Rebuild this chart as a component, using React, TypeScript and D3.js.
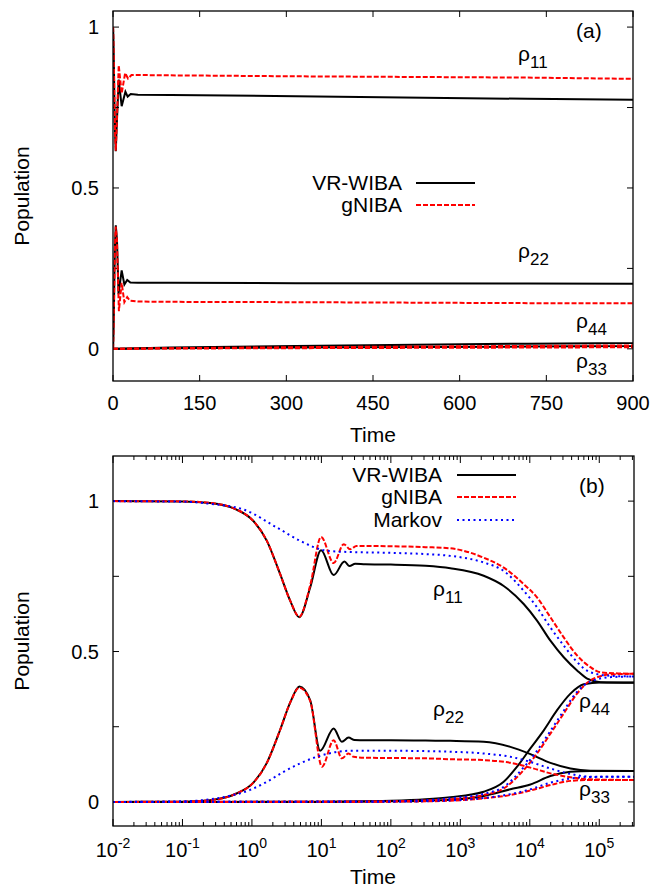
import React from "react";
import * as d3 from "d3";

// ---------- data (time, population) ----------
// VR-WIBA
const tVR11 = [0.01, 0.1, 0.25, 0.6, 1.05, 1.64, 2.55, 3.55, 4.8, 6.9, 9.9, 15, 21.5, 25.4, 30.7, 43, 100, 316, 718, 2170, 4210, 8170, 12700, 19800, 30800, 47900, 67000, 104000, 316000];
const vVR11 = [1.0, 0.999, 0.994, 0.972, 0.934, 0.868, 0.757, 0.669, 0.614, 0.713, 0.837, 0.754, 0.799, 0.784, 0.792, 0.79, 0.789, 0.785, 0.777, 0.752, 0.718, 0.658, 0.603, 0.536, 0.481, 0.437, 0.41, 0.398, 0.396];
const tVR22 = [0.01, 0.1, 0.25, 0.6, 1.05, 1.64, 2.55, 3.55, 4.83, 6.9, 9.6, 15, 19.7, 24.6, 30, 43, 100, 316, 718, 2170, 5250, 10200, 19800, 38500, 74600, 316000];
const vVR22 = [0.0, 0.001, 0.006, 0.028, 0.064, 0.13, 0.24, 0.33, 0.384, 0.338, 0.17, 0.244, 0.2, 0.214, 0.206, 0.205, 0.205, 0.204, 0.203, 0.2, 0.183, 0.159, 0.13, 0.111, 0.104, 0.103];
const tVR33 = [0.01, 10, 100, 316, 718, 2170, 5250, 10200, 19800, 38500, 74600, 316000];
const vVR33 = [0.0, 0.0002, 0.002, 0.004, 0.007, 0.02, 0.042, 0.058, 0.086, 0.1, 0.103, 0.103];
const tVR44 = [0.01, 10, 100, 316, 718, 2170, 4210, 6560, 10200, 15900, 24700, 38500, 59800, 104000, 316000];
const vVR44 = [0.0, 0.0005, 0.004, 0.009, 0.016, 0.034, 0.067, 0.117, 0.178, 0.238, 0.305, 0.36, 0.391, 0.397, 0.397];

// gNIBA
const tG11 = [0.01, 0.1, 0.25, 0.6, 1.05, 1.64, 2.55, 3.55, 4.8, 6.9, 9.9, 15, 21, 26, 32, 43, 100, 316, 718, 2170, 4210, 8170, 12700, 19800, 30800, 47900, 74600, 104000, 200000, 316000];
const vG11 = [1.0, 0.999, 0.994, 0.972, 0.934, 0.868, 0.757, 0.669, 0.616, 0.72, 0.881, 0.794, 0.857, 0.84, 0.851, 0.851, 0.85, 0.847, 0.843, 0.812, 0.779, 0.724, 0.68, 0.614, 0.547, 0.487, 0.448, 0.431, 0.427, 0.426];
const tG22 = [0.01, 0.1, 0.25, 0.6, 1.05, 1.64, 2.55, 3.55, 4.83, 6.9, 10.2, 15, 19.7, 24.6, 29, 43, 100, 316, 718, 2170, 5250, 10200, 19800, 38500, 74600, 316000];
const vG22 = [0.0, 0.001, 0.006, 0.028, 0.064, 0.13, 0.24, 0.33, 0.38, 0.335, 0.117, 0.205, 0.145, 0.161, 0.15, 0.147, 0.146, 0.145, 0.142, 0.139, 0.13, 0.114, 0.095, 0.082, 0.075, 0.073];
const tG33 = [0.01, 100, 718, 2170, 5250, 10200, 19800, 38500, 74600, 316000];
const vG33 = [0.0, 0.001, 0.004, 0.012, 0.023, 0.038, 0.056, 0.07, 0.073, 0.073];
const tG44 = [0.01, 10, 100, 316, 718, 2170, 4210, 8170, 12700, 19800, 30800, 47900, 74600, 150000, 316000];
const vG44 = [0.0, 0.0003, 0.002, 0.005, 0.009, 0.023, 0.045, 0.106, 0.161, 0.227, 0.294, 0.36, 0.404, 0.424, 0.426];

// Markov
const tM11 = [0.01, 0.1, 0.25, 0.76, 2.29, 4.95, 10.7, 18, 100, 316, 718, 2170, 4210, 8170, 12700, 19800, 30800, 47900, 74600, 150000, 316000];
const vM11 = [1.0, 0.998, 0.991, 0.972, 0.912, 0.868, 0.837, 0.832, 0.828, 0.824, 0.818, 0.796, 0.768, 0.702, 0.647, 0.58, 0.52, 0.465, 0.431, 0.419, 0.417];
const tM22 = [0.01, 0.1, 0.31, 0.94, 1.64, 2.85, 8.6, 26, 100, 316, 718, 2170, 5250, 10200, 19800, 38500, 74600, 316000];
const vM22 = [0.0, 0.002, 0.012, 0.04, 0.067, 0.1, 0.15, 0.17, 0.17, 0.169, 0.167, 0.161, 0.15, 0.133, 0.111, 0.093, 0.084, 0.084];
const tM33 = [0.01, 100, 718, 2170, 5250, 10200, 19800, 38500, 74600, 316000];
const vM33 = [0.0, 0.001, 0.005, 0.013, 0.026, 0.042, 0.064, 0.078, 0.083, 0.084];
const tM44 = [0.01, 100, 316, 718, 2170, 4210, 8170, 12700, 19800, 30800, 47900, 74600, 150000, 316000];
const vM44 = [0.0, 0.002, 0.006, 0.012, 0.027, 0.05, 0.115, 0.17, 0.236, 0.303, 0.366, 0.4, 0.415, 0.417];

const linTicks = [0, 150, 300, 450, 600, 750, 900];
const yTicks = [0, 0.25, 0.5, 0.75, 1];
const yLabels = [0, 0.5, 1];
const logExps = [-2, -1, 0, 1, 2, 3, 4, 5];

const FONT = "'Liberation Sans', Arial, Helvetica, sans-serif";

type Series = { t: number[]; v: number[]; model: "VR" | "G" | "M" };
const vrSeries: Series[] = [
  { t: tVR11, v: vVR11, model: "VR" },
  { t: tVR22, v: vVR22, model: "VR" },
  { t: tVR33, v: vVR33, model: "VR" },
  { t: tVR44, v: vVR44, model: "VR" },
];
const gSeries: Series[] = [
  { t: tG11, v: vG11, model: "G" },
  { t: tG22, v: vG22, model: "G" },
  { t: tG33, v: vG33, model: "G" },
  { t: tG44, v: vG44, model: "G" },
];
const mSeries: Series[] = [
  { t: tM11, v: vM11, model: "M" },
  { t: tM22, v: vM22, model: "M" },
  { t: tM33, v: vM33, model: "M" },
  { t: tM44, v: vM44, model: "M" },
];

const styleOf = (m: string) =>
  m === "VR"
    ? { stroke: "#000", dash: undefined as string | undefined }
    : m === "G"
    ? { stroke: "#ff0000", dash: "5,2" }
    : { stroke: "#0000ff", dash: "2,3.5" };

function Rho({ x, y, sub }: { x: number; y: number; sub: string }) {
  return (
    <text x={x} y={y} fontFamily={FONT} fontSize={21} fill="#000">
      ρ
      <tspan dy={7} fontSize={17}>
        {sub}
      </tspan>
    </text>
  );
}

function LegendRow({ xText, y, label, model, x1, x2 }: { xText: number; y: number; label: string; model: string; x1: number; x2: number }) {
  const s = styleOf(model);
  return (
    <g>
      <text x={xText} y={y + 7} textAnchor="end" fontFamily={FONT} fontSize={21} fill="#000">
        {label}
      </text>
      <line x1={x1} x2={x2} y1={y} y2={y} stroke={s.stroke} strokeWidth={2} strokeDasharray={s.dash} />
    </g>
  );
}

export default function App() {
  const L = 113;
  // ---------- panel (a) ----------
  const xa = d3.scaleLinear().domain([0, 900]).range([L, 633]);
  const ya = d3.scaleLinear().domain([-0.1, 1.05]).range([381, 11]);
  // ---------- panel (b) ----------
  const xb = d3.scaleLog().domain([0.01, Math.pow(10, 5.5)]).range([L, 634]);
  const yb = d3.scaleLinear().domain([-0.08, 1.15]).range([826, 456]);

  const lineA = (s: Series) =>
    d3
      .line<number>()
      .x((_, i) => xa(s.t[i]))
      .y((d) => ya(d))
      .curve(d3.curveLinear)(s.v) || "";
  const lineB = (s: Series) =>
    d3
      .line<number>()
      .x((_, i) => xb(s.t[i]))
      .y((d) => yb(d))
      .curve(d3.curveMonotoneX)(s.v) || "";

  const minorLog: number[] = [];
  for (let e = -2; e <= 5; e++) {
    for (let k = 2; k <= 9; k++) {
      const v = k * Math.pow(10, e);
      if (v <= Math.pow(10, 5.5)) minorLog.push(v);
    }
  }

  const drawSeries = (list: Series[], fn: (s: Series) => string, clip: string) =>
    list.map((s, i) => {
      const st = styleOf(s.model);
      return (
        <path
          key={s.model + i}
          d={fn(s)}
          fill="none"
          stroke={st.stroke}
          strokeWidth={2}
          strokeDasharray={st.dash}
          clipPath={`url(#${clip})`}
        />
      );
    });

  const tickStyle = { stroke: "#000", strokeWidth: 1 };

  return (
    <svg width={666} height={890} style={{ position: "absolute", left: 0, top: 0, background: "#fff" }}>
      <defs>
        <clipPath id="clipA">
          <rect x={L} y={11} width={633 - L} height={370} />
        </clipPath>
        <clipPath id="clipB">
          <rect x={L} y={456} width={634 - L} height={370} />
        </clipPath>
      </defs>
      <rect x={0} y={0} width={666} height={890} fill="#fff" />

      {/* ===== Panel (a) ===== */}
      {linTicks.map((t) => (
        <g key={"xa" + t}>
          <line x1={xa(t)} x2={xa(t)} y1={381} y2={375} {...tickStyle} />
          <line x1={xa(t)} x2={xa(t)} y1={11} y2={17} {...tickStyle} />
          <text x={xa(t)} y={410} textAnchor="middle" fontFamily={FONT} fontSize={20}>
            {t}
          </text>
        </g>
      ))}
      {yTicks.map((v) => (
        <g key={"ya" + v}>
          <line x1={L} x2={L + 6} y1={ya(v)} y2={ya(v)} {...tickStyle} />
          <line x1={633} x2={627} y1={ya(v)} y2={ya(v)} {...tickStyle} />
        </g>
      ))}
      {yLabels.map((v) => (
        <text key={"yla" + v} x={99} y={ya(v) + 7} textAnchor="end" fontFamily={FONT} fontSize={20}>
          {v}
        </text>
      ))}
      <text x={0} y={0} transform={`translate(29,196) rotate(-90)`} textAnchor="middle" fontFamily={FONT} fontSize={21}>
        Population
      </text>
      <text x={373} y={442} textAnchor="middle" fontFamily={FONT} fontSize={21}>
        Time
      </text>

      {drawSeries(vrSeries, lineA, "clipA")}
      {drawSeries(gSeries, lineA, "clipA")}

      <rect x={L} y={11} width={633 - L} height={370} fill="none" stroke="#000" strokeWidth={1.3} />
      <text x={576} y={38} fontFamily={FONT} fontSize={21}>
        (a)
      </text>
      <LegendRow xText={402} y={183} label="VR-WIBA" model="VR" x1={416} x2={475} />
      <LegendRow xText={402} y={205} label="gNIBA" model="G" x1={416} x2={475} />
      <Rho x={518} y={61} sub="11" />
      <Rho x={518} y={258} sub="22" />
      <Rho x={576} y={328} sub="44" />
      <Rho x={576} y={368} sub="33" />

      {/* ===== Panel (b) ===== */}
      {minorLog.map((t, i) => (
        <g key={"mb" + i}>
          <line x1={xb(t)} x2={xb(t)} y1={826} y2={822} {...tickStyle} />
          <line x1={xb(t)} x2={xb(t)} y1={456} y2={460} {...tickStyle} />
        </g>
      ))}
      {logExps.map((e) => {
        const t = Math.pow(10, e);
        return (
          <g key={"xb" + e}>
            <line x1={xb(t)} x2={xb(t)} y1={826} y2={819} {...tickStyle} />
            <line x1={xb(t)} x2={xb(t)} y1={456} y2={463} {...tickStyle} />
            <text x={xb(t)} y={857} textAnchor="middle" fontFamily={FONT} fontSize={20}>
              10
              <tspan dy={-9} fontSize={14}>
                {e}
              </tspan>
            </text>
          </g>
        );
      })}
      {yTicks.map((v) => (
        <g key={"yb" + v}>
          <line x1={L} x2={L + 6} y1={yb(v)} y2={yb(v)} {...tickStyle} />
          <line x1={634} x2={628} y1={yb(v)} y2={yb(v)} {...tickStyle} />
        </g>
      ))}
      {yLabels.map((v) => (
        <text key={"ylb" + v} x={99} y={yb(v) + 7} textAnchor="end" fontFamily={FONT} fontSize={20}>
          {v}
        </text>
      ))}
      <text x={0} y={0} transform={`translate(29,641) rotate(-90)`} textAnchor="middle" fontFamily={FONT} fontSize={21}>
        Population
      </text>
      <text x={373} y={884} textAnchor="middle" fontFamily={FONT} fontSize={21}>
        Time
      </text>

      {drawSeries(vrSeries, lineB, "clipB")}
      {drawSeries(gSeries, lineB, "clipB")}
      {drawSeries(mSeries, lineB, "clipB")}

      <rect x={L} y={456} width={634 - L} height={370} fill="none" stroke="#000" strokeWidth={1.3} />
      <text x={579} y={493} fontFamily={FONT} fontSize={21}>
        (b)
      </text>
      <LegendRow xText={442} y={475} label="VR-WIBA" model="VR" x1={457} x2={516} />
      <LegendRow xText={442} y={497} label="gNIBA" model="G" x1={457} x2={516} />
      <LegendRow xText={442} y={520} label="Markov" model="M" x1={457} x2={516} />
      <Rho x={433} y={596} sub="11" />
      <Rho x={433} y={716} sub="22" />
      <Rho x={579} y={708} sub="44" />
      <Rho x={579} y={796} sub="33" />
    </svg>
  );
}
